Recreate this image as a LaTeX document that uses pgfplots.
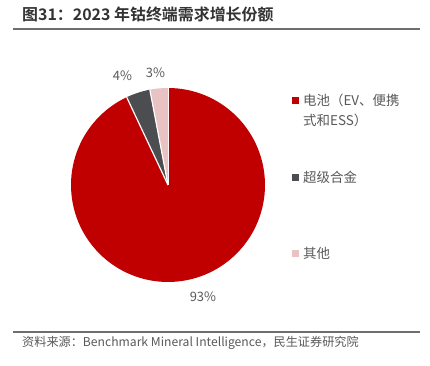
\documentclass[border=0pt]{standalone}
\usepackage{pgfplots}
\pgfplotsset{compat=1.18}
\usepackage{fontspec}
\setmainfont{Noto Sans CJK SC}[BoldFont={Noto Sans CJK SC Bold}]
\definecolor{pieRed}{HTML}{C00000}
\definecolor{pieGray}{HTML}{4B4D50}
\definecolor{piePink}{HTML}{E9C3C3}
\definecolor{txtGray}{HTML}{595959}
\definecolor{ruleGray}{HTML}{6E6E6E}
\begin{document}
\begin{tikzpicture}[x=1bp,y=1bp]
\path (0,0) rectangle (430,366);
% title and rules
\node[anchor=west, font=\bfseries\fontsize{16}{18}\selectfont, text=black!80, inner sep=0] at (22,352) {图31：2023 年钴终端需求增长份额};
\draw[ruleGray, line width=1.5bp] (13,337) -- (420,337);
\draw[ruleGray, line width=1.5bp] (13,34) -- (420,34);
\node[anchor=west, font=\fontsize{12.2}{14}\selectfont, text=txtGray, inner sep=0] at (22,23) {资料来源：Benchmark Mineral Intelligence，民生证券研究院};
\begin{axis}[
  at={(168bp,181bp)}, anchor=center,
  scale only axis, width=194bp, height=194bp,
  xmin=-1, xmax=1, ymin=-1, ymax=1,
  hide axis, clip=false]
\pgfplotsextra{
  \gdef\cum{0}
  \foreach \v/\c in {93/pieRed,4/pieGray,3/piePink}{
    \pgfmathsetmacro\sa{90-3.6*\cum}
    \pgfmathsetmacro\ea{90-3.6*(\cum+\v)}
    \fill[\c] (axis cs:0,0) -- plot[domain=\sa:\ea, samples=120, variable=\t] (axis cs:{cos(\t)},{sin(\t)}) -- cycle;
    \draw[white, line width=1.2bp] (axis cs:0,0) -- (axis cs:{cos(\sa)},{sin(\sa)});
    \pgfmathsetmacro\nc{\cum+\v}\xdef\cum{\nc}
  }
}
\node[font=\fontsize{13}{15}\selectfont, text=txtGray] at (axis cs:0.36,-1.155) {93\%};
\node[font=\fontsize{13}{15}\selectfont, text=txtGray] at (axis cs:-0.47,1.13) {4\%};
\node[font=\fontsize{13}{15}\selectfont, text=txtGray] at (axis cs:-0.13,1.16) {3\%};
\end{axis}
% legend
\fill[pieRed] (292,262) rectangle (299,269);
\node[anchor=west, font=\fontsize{13.5}{20}\selectfont, text=txtGray, inner sep=0, align=left] at (303,255.5) {电池（EV、便携\\式和ESS）};
\fill[pieGray] (292,185) rectangle (299,192);
\node[anchor=west, font=\fontsize{13.5}{15}\selectfont, text=txtGray, inner sep=0] at (303,188.5) {超级合金};
\fill[piePink] (292,109) rectangle (299,116);
\node[anchor=west, font=\fontsize{13.5}{15}\selectfont, text=txtGray, inner sep=0] at (303,112.5) {其他};
\end{tikzpicture}
\end{document}
